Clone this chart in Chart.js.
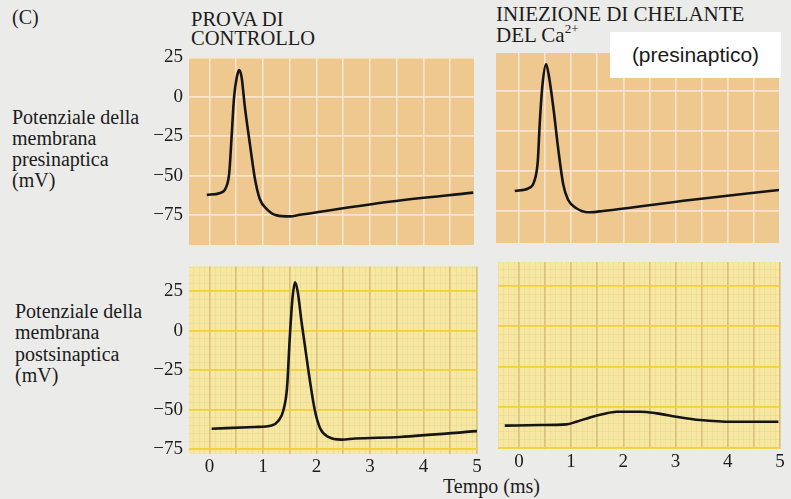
<!DOCTYPE html>
<html lang="it">
<head>
<meta charset="utf-8">
<title>Potenziale di membrana</title>
<script src="https://cdn.jsdelivr.net/npm/chart.js@4.4.1/dist/chart.umd.min.js"></script>
<style>
  html, body { margin: 0; padding: 0; }
  body {
    width: 791px; height: 499px; background: #ebebe9;
    position: relative; overflow: hidden;
    font-family: "Liberation Serif", "Times New Roman", serif; color: #1c1c1c;
  }
  .lbl { position: absolute; white-space: nowrap; font-size: 20px; line-height: 21px; }
  canvas { position: absolute; }
  #tag {
    position: absolute; left: 610px; top: 32px; width: 171px; height: 46px; z-index: 5;
    background: #fff; font-family: "Liberation Sans", Arial, sans-serif;
    font-size: 21px; line-height: 46px; text-align: center; color: #1a1a1a;
  }
</style>
</head>
<body>
<div class="lbl" style="left:12px;top:7px">(C)</div>
<div class="lbl" style="left:191px;top:10px;line-height:19px;font-size:20.5px">PROVA DI<br>CONTROLLO</div>
<div class="lbl" style="left:496px;top:4px;font-size:21px">INIEZIONE DI CHELANTE<br>DEL Ca<span style="font-size:13px;position:relative;top:-9px">2+</span></div>
<div id="tag">(presinaptico)</div>
<div class="lbl" style="left:12px;top:107px">Potenziale della<br>membrana<br>presinaptica<br>(mV)</div>
<div class="lbl" style="left:15px;top:301px;line-height:21.3px">Potenziale della<br>membrana<br>postsinaptica<br>(mV)</div>
<div class="lbl" style="left:443px;top:476px">Tempo (ms)</div>

<script>
// tick labels
const timeLabels = [0, 1, 2, 3, 4, 5];
const mvLabels = [25, 0, -25, -50, -75];

// presinaptico, controllo
const preCtrlT = [-0.05, 0.20, 0.31, 0.37, 0.41, 0.46, 0.51, 0.555, 0.60, 0.66, 0.76, 0.85, 0.94, 1.07, 1.26, 1.50, 1.69, 3.40, 4.93];
const preCtrlV = [-62.0, -60.8, -57.3, -48.0, -27.0, 0.0, 12.5, 17.0, 12.5, -6.0, -31.0, -52.0, -64.6, -71.0, -75.0, -75.6, -74.6, -66.2, -60.6];

// presinaptico, chelante del Ca2+
const preChelT = [-0.08, 0.18, 0.29, 0.36, 0.40, 0.45, 0.52, 0.57, 0.66, 0.75, 0.85, 0.94, 1.10, 1.33, 1.61, 3.28, 4.98];
const preChelV = [-62.5, -60.8, -56.7, -44.0, -19.0, 3.8, 16.7, 10.0, -10.8, -35.8, -58.8, -68.0, -73.3, -75.8, -75.0, -68.1, -61.9];

// postsinaptico, controllo
const postCtrlT = [0.04, 0.85, 1.16, 1.29, 1.38, 1.45, 1.50, 1.55, 1.60, 1.65, 1.72, 1.85, 1.97, 2.07, 2.22, 2.47, 2.72, 3.56, 5.00];
const postCtrlV = [-62.1, -61.0, -60.0, -57.0, -50.6, -36.0, -4.8, 20.0, 30.6, 24.4, 5.6, -25.6, -50.6, -62.0, -67.3, -69.0, -68.3, -67.3, -63.6];

// postsinaptico, chelante del Ca2+
const postChelT = [-0.27, 0.40, 0.91, 1.10, 1.36, 1.62, 1.87, 2.32, 2.64, 3.02, 3.47, 4.11, 4.97];
const postChelV = [-61.5, -61.1, -60.7, -59.1, -56.4, -54.3, -52.9, -52.9, -53.9, -56.0, -58.0, -59.1, -59.1];

const SERIF = '"Liberation Serif", "Times New Roman", serif';

// Panel look
const orangePaper = { bg: '#efc890', hLine: '#f7e5d0', vLine: '#f7e5d0', minor: null };
const yellowPaper = { bg: '#f6e7a3', hLine: '#f2d232', vLine: '#d8c27c', minor: 'rgba(214, 188, 96, 0.18)' };

function stepTicks(min, max, step) {
  const out = [];
  for (let v = Math.ceil(min / step - 1e-9) * step; v <= max + 1e-9; v += step) {
    out.push({ value: Math.round(v * 1000) / 1000 });
  }
  return out;
}

function isWhole(v) {
  return Math.abs(v - Math.round(v)) < 1e-6;
}

// Draws the paper background (and the faint graph-paper lines) under the grid
const paperPlugin = {
  id: 'paper',
  beforeDraw(chart, args, opts) {
    const { ctx, chartArea: a, scales } = chart;
    ctx.save();
    ctx.fillStyle = opts.bg;
    ctx.fillRect(a.left, a.top, a.right - a.left, a.bottom - a.top);
    if (opts.minor) {
      ctx.strokeStyle = opts.minor;
      ctx.lineWidth = 1;
      ctx.beginPath();
      stepTicks(scales.y.min, scales.y.max, 5).forEach(t => {
        const y = Math.round(scales.y.getPixelForValue(t.value)) + 0.5;
        ctx.moveTo(a.left, y); ctx.lineTo(a.right, y);
      });
      stepTicks(scales.x.min, scales.x.max, 0.1).forEach(t => {
        const x = Math.round(scales.x.getPixelForValue(t.value)) + 0.5;
        ctx.moveTo(x, a.top); ctx.lineTo(x, a.bottom);
      });
      ctx.stroke();
    }
    ctx.restore();
  }
};

function makePanel(p) {
  const canvas = document.createElement('canvas');
  canvas.width = p.w + 70;
  canvas.height = p.h + 55;
  canvas.style.left = (p.left - 60) + 'px';
  canvas.style.top = (p.top - 15) + 'px';
  document.body.appendChild(canvas);

  const points = p.t.map((t, i) => ({ x: t, y: p.v[i] }));

  return new Chart(canvas, {
    type: 'line',
    data: {
      datasets: [{
        data: points,
        borderColor: '#151515',
        borderWidth: 2.6,
        pointRadius: 0,
        cubicInterpolationMode: 'monotone',
        fill: false
      }]
    },
    options: {
      responsive: false,
      animation: false,
      events: [],
      layout: { padding: { left: 0, top: 15, right: 10, bottom: 0 } },
      plugins: {
        legend: { display: false },
        tooltip: { enabled: false },
        paper: p.paper
      },
      scales: {
        x: {
          type: 'linear',
          bounds: 'data',
          min: p.xMin,
          max: p.xMax,
          afterBuildTicks: s => { s.ticks = stepTicks(s.min, s.max, 0.5); },
          afterFit: s => { s.height = 40; },
          border: { display: false },
          grid: { color: p.paper.vLine, lineWidth: 1.6, drawTicks: false },
          ticks: {
            display: p.showX,
            autoSkip: false,
            maxRotation: 0,
            padding: 2,
            color: '#1c1c1c',
            font: { family: SERIF, size: 19 },
            callback: v => (isWhole(v) && timeLabels.includes(Math.round(v))) ? String(Math.round(v)) : ''
          }
        },
        y: {
          type: 'linear',
          bounds: 'data',
          min: p.yMin,
          max: p.yMax,
          afterBuildTicks: s => { s.ticks = stepTicks(s.min, s.max, 25); },
          afterFit: s => { s.width = 60; },
          border: { display: false },
          grid: { color: p.paper.hLine, lineWidth: 1.8, drawTicks: false },
          ticks: {
            display: p.showY,
            autoSkip: false,
            padding: 6,
            color: '#1c1c1c',
            font: { family: SERIF, size: 19 },
            callback: v => mvLabels.includes(v) ? (v < 0 ? '\u2212' + Math.abs(v) : String(v)) : ''
          }
        }
      }
    },
    plugins: [paperPlugin]
  });
}

const panels = [
  { left: 189, top: 55, w: 285, h: 190, xMin: -0.383, xMax: 4.944, yMin: -93.75, yMax: 25,
    t: preCtrlT, v: preCtrlV, paper: orangePaper, showX: false, showY: true },
  { left: 496, top: 53, w: 283, h: 190, xMin: -0.44, xMax: 4.98, yMin: -95, yMax: 23.75,
    t: preChelT, v: preChelV, paper: orangePaper, showX: false, showY: false },
  { left: 189, top: 264, w: 288, h: 190, xMin: -0.383, xMax: 5, yMin: -78.1, yMax: 40.6,
    t: postCtrlT, v: postCtrlV, paper: yellowPaper, showX: true, showY: true },
  { left: 498, top: 262, w: 282, h: 187, xMin: -0.40, xMax: 5, yMin: -75.9, yMax: 39.5,
    t: postChelT, v: postChelV, paper: yellowPaper, showX: true, showY: false }
];

panels.forEach(makePanel);
</script>
</body>
</html>
